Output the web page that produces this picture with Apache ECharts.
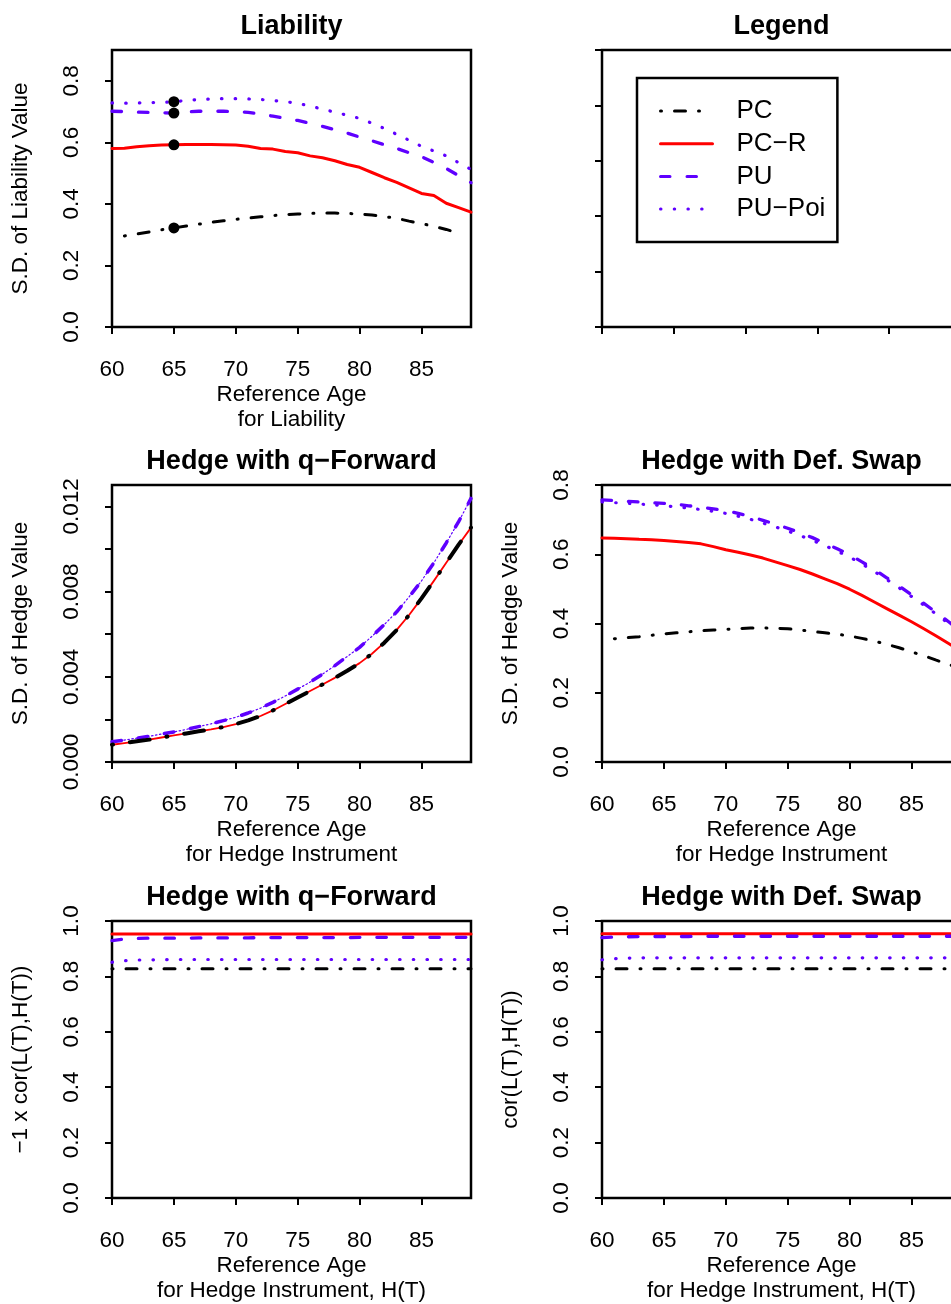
<!DOCTYPE html>
<html>
<head>
<meta charset="utf-8">
<script src="https://cdn.jsdelivr.net/npm/echarts@6/dist/echarts.min.js"></script>
<style>
  html, body { margin: 0; padding: 0; background: #ffffff; }
  #chart { width: 951px; height: 1304px; }
</style>
</head>
<body>
<div id="chart"></div>
<script>
// reference ages (x axis of every panel)
const ages = [60, 61, 62, 63, 64, 65, 66, 67, 68, 69, 70, 71, 72, 73, 74, 75, 76, 77, 78, 79, 80, 81, 82, 83, 84, 85, 86, 87, 88, 89];
const seriesNames = ['PC', 'PC−R', 'PU', 'PU−Poi'];

// Liability: S.D. of liability value
const liabPC    = [null, 0.296, 0.302, 0.309, 0.316, 0.322, 0.328, 0.334, 0.340, 0.345, 0.350, 0.354, 0.358, 0.362, 0.365, 0.367, 0.369, 0.370, 0.370, 0.369, 0.367, 0.364, 0.359, 0.353, 0.344, 0.336, 0.327, 0.317, 0.305, null];
const liabPCR   = [0.580, 0.581, 0.586, 0.589, 0.591, 0.592, 0.593, 0.593, 0.593, 0.592, 0.591, 0.587, 0.580, 0.578, 0.570, 0.566, 0.556, 0.550, 0.540, 0.528, 0.519, 0.502, 0.485, 0.470, 0.452, 0.434, 0.427, 0.402, 0.388, 0.373];
const liabPU    = [0.701, 0.700, 0.698, 0.697, 0.696, 0.695, 0.699, 0.701, 0.701, 0.701, 0.700, 0.697, 0.692, 0.685, 0.678, 0.671, 0.662, 0.652, 0.641, 0.630, 0.617, 0.605, 0.592, 0.580, 0.566, 0.553, 0.535, 0.515, 0.492, 0.469];
const liabPUPoi = [0.728, 0.727, 0.728, 0.729, 0.730, 0.732, 0.736, 0.739, 0.741, 0.742, 0.742, 0.741, 0.739, 0.736, 0.732, 0.727, 0.718, 0.708, 0.698, 0.688, 0.678, 0.662, 0.645, 0.626, 0.607, 0.587, 0.572, 0.556, 0.534, 0.512];
const dotAge = 65;

// Hedge with q-forward: S.D. of hedge value
const qfwdPC    = [0.00081, 0.00089, 0.00097, 0.00105, 0.00115, 0.00125, 0.00134, 0.00144, 0.00153, 0.00164, 0.00178, 0.00195, 0.00216, 0.00242, 0.00272, 0.00303, 0.00333, 0.00364, 0.00395, 0.00428, 0.00464, 0.00508, 0.00560, 0.00620, 0.00690, 0.00768, 0.00850, 0.00935, 0.01020, 0.01100];
const qfwdPCR   = [0.00081, 0.00089, 0.00097, 0.00105, 0.00115, 0.00125, 0.00134, 0.00144, 0.00153, 0.00164, 0.00178, 0.00195, 0.00216, 0.00242, 0.00272, 0.00303, 0.00333, 0.00364, 0.00395, 0.00428, 0.00464, 0.00508, 0.00560, 0.00620, 0.00690, 0.00768, 0.00850, 0.00935, 0.01020, 0.01100];
const qfwdPU    = [0.00095, 0.00103, 0.00112, 0.00121, 0.00131, 0.00141, 0.00153, 0.00166, 0.00179, 0.00194, 0.00210, 0.00230, 0.00253, 0.00280, 0.00310, 0.00342, 0.00375, 0.00412, 0.00452, 0.00495, 0.00538, 0.00590, 0.00645, 0.00705, 0.00775, 0.00850, 0.00935, 0.01028, 0.01128, 0.01237];
const qfwdPUPoi = [0.00095, 0.00103, 0.00112, 0.00121, 0.00131, 0.00141, 0.00153, 0.00166, 0.00179, 0.00194, 0.00210, 0.00230, 0.00253, 0.00280, 0.00310, 0.00342, 0.00375, 0.00412, 0.00452, 0.00495, 0.00538, 0.00590, 0.00645, 0.00705, 0.00775, 0.00850, 0.00935, 0.01028, 0.01128, 0.01237];

// Hedge with def. swap: S.D. of hedge value
const swapPC    = [null, 0.356, 0.359, 0.362, 0.366, 0.370, 0.373, 0.376, 0.379, 0.381, 0.383, 0.385, 0.387, 0.387, 0.386, 0.385, 0.381, 0.377, 0.373, 0.369, 0.364, 0.357, 0.349, 0.340, 0.330, 0.318, 0.307, 0.294, 0.282, 0.270];
const swapPCR   = [0.647, 0.646, 0.645, 0.643, 0.642, 0.640, 0.637, 0.634, 0.630, 0.622, 0.613, 0.606, 0.598, 0.589, 0.578, 0.567, 0.556, 0.543, 0.529, 0.515, 0.499, 0.481, 0.462, 0.443, 0.424, 0.405, 0.385, 0.364, 0.342, 0.320];
const swapPU    = [0.757, 0.755, 0.753, 0.751, 0.749, 0.747, 0.744, 0.740, 0.736, 0.731, 0.726, 0.718, 0.709, 0.698, 0.687, 0.675, 0.662, 0.648, 0.632, 0.616, 0.599, 0.578, 0.556, 0.532, 0.508, 0.483, 0.458, 0.432, 0.405, 0.378];
const swapPUPoi = [0.751, 0.749, 0.747, 0.745, 0.743, 0.740, 0.737, 0.733, 0.729, 0.724, 0.718, 0.710, 0.701, 0.690, 0.679, 0.667, 0.654, 0.640, 0.625, 0.609, 0.592, 0.572, 0.550, 0.527, 0.503, 0.478, 0.453, 0.427, 0.400, 0.373];

// Hedge with q-forward: -1 x cor(L(T),H(T))
const qcorPC    = [0.828, 0.828, 0.828, 0.828, 0.828, 0.828, 0.828, 0.828, 0.828, 0.828, 0.828, 0.828, 0.828, 0.828, 0.828, 0.828, 0.828, 0.828, 0.828, 0.828, 0.828, 0.828, 0.828, 0.828, 0.828, 0.828, 0.828, 0.828, 0.828, 0.828];
const qcorPCR   = [0.953, 0.953, 0.953, 0.953, 0.953, 0.953, 0.953, 0.953, 0.953, 0.953, 0.953, 0.953, 0.953, 0.953, 0.953, 0.953, 0.953, 0.953, 0.953, 0.953, 0.953, 0.953, 0.953, 0.953, 0.953, 0.953, 0.953, 0.953, 0.953, 0.953];
const qcorPU    = [0.929, 0.935, 0.937, 0.938, 0.938, 0.938, 0.938, 0.939, 0.939, 0.939, 0.939, 0.939, 0.940, 0.940, 0.940, 0.940, 0.940, 0.940, 0.940, 0.940, 0.941, 0.941, 0.941, 0.941, 0.941, 0.941, 0.941, 0.941, 0.941, 0.941];
const qcorPUPoi = [0.851, 0.857, 0.859, 0.860, 0.860, 0.861, 0.861, 0.861, 0.861, 0.861, 0.861, 0.861, 0.861, 0.861, 0.861, 0.861, 0.861, 0.861, 0.861, 0.861, 0.861, 0.861, 0.861, 0.861, 0.861, 0.861, 0.861, 0.861, 0.861, 0.861];

// Hedge with def. swap: cor(L(T),H(T))
const scorPC    = [0.828, 0.828, 0.828, 0.828, 0.828, 0.828, 0.828, 0.828, 0.828, 0.828, 0.828, 0.828, 0.828, 0.828, 0.828, 0.828, 0.828, 0.828, 0.828, 0.828, 0.828, 0.828, 0.828, 0.828, 0.828, 0.828, 0.828, 0.828, 0.828, 0.828];
const scorPCR   = [0.954, 0.954, 0.954, 0.954, 0.954, 0.954, 0.954, 0.954, 0.954, 0.954, 0.954, 0.954, 0.954, 0.954, 0.954, 0.954, 0.954, 0.954, 0.954, 0.954, 0.954, 0.954, 0.954, 0.954, 0.954, 0.954, 0.954, 0.954, 0.954, 0.954];
const scorPU    = [0.940, 0.942, 0.943, 0.944, 0.944, 0.944, 0.944, 0.944, 0.945, 0.945, 0.945, 0.945, 0.945, 0.945, 0.945, 0.945, 0.945, 0.945, 0.945, 0.945, 0.945, 0.945, 0.945, 0.945, 0.945, 0.945, 0.945, 0.945, 0.945, 0.945];
const scorPUPoi = [0.860, 0.864, 0.866, 0.867, 0.867, 0.867, 0.867, 0.867, 0.867, 0.867, 0.867, 0.867, 0.867, 0.867, 0.867, 0.867, 0.867, 0.867, 0.867, 0.867, 0.867, 0.867, 0.867, 0.867, 0.867, 0.867, 0.867, 0.867, 0.867, 0.867];

// tick positions
const ageTicks = [60, 65, 70, 75, 80, 85];
const legendTicks = [0, 0.2, 0.4, 0.6, 0.8, 1.0];
const liabTicks = [0, 0.2, 0.4, 0.6, 0.8];
const qfwdTicks = [0, 0.002, 0.004, 0.006, 0.008, 0.010, 0.012];
const qfwdLabels = [0, 0.004, 0.008, 0.012];
const swapTicks = [0, 0.2, 0.4, 0.6, 0.8];
const corTicks = [0, 0.2, 0.4, 0.6, 0.8, 1.0];

const FONT = '"Liberation Sans", Arial, Helvetica, sans-serif';
const RED = '#ff0000', PURPLE = '#5f00ff', BLACK = '#000000';
const DOTDASH = [1, 13, 11, 13];
const DASHED = [9.5, 17];
const DOTTED = [0.5, 13.2];
const AXIS_FONT = 22.5;

const chart = echarts.init(document.getElementById('chart'), null, { renderer: 'canvas' });

// 3 x 2 panel layout (right column runs off the page like the original)
const panelPos = [[112, 50], [602, 50], [112, 485], [602, 485], [112, 921], [602, 921]];
const grids = panelPos.map(p => ({
    left: p[0], top: p[1], width: 359, height: 277,
    show: true, borderColor: BLACK, borderWidth: 2.5, backgroundColor: 'transparent',
    containLabel: false, outerBoundsMode: 'none'
}));

function xAxis(idx, name, min, max, ticks, showLabels) {
    return {
        type: 'value', gridIndex: idx, min: min, max: max,
        name: name, nameLocation: 'middle', nameGap: 54,
        nameTextStyle: { fontSize: AXIS_FONT, lineHeight: 25.5, color: BLACK, fontFamily: FONT },
        axisLine: { show: false }, splitLine: { show: false },
        axisTick: { show: true, length: 7, lineStyle: { color: BLACK, width: 2 }, customValues: ticks },
        axisLabel: { show: showLabels, customValues: ticks, margin: 31, fontSize: AXIS_FONT, color: BLACK, fontFamily: FONT }
    };
}

function yAxis(idx, name, min, max, ticks, labels, digits) {
    return {
        type: 'value', gridIndex: idx, min: min, max: max,
        name: name, nameLocation: 'middle', nameGap: 80,
        nameTextStyle: { fontSize: AXIS_FONT, color: BLACK, fontFamily: FONT },
        axisLine: { show: false }, splitLine: { show: false },
        axisTick: { show: true, length: 7, lineStyle: { color: BLACK, width: 2 }, customValues: ticks },
        axisLabel: {
            show: labels !== null, customValues: labels || ticks, rotate: 90, margin: 29,
            fontSize: AXIS_FONT, color: BLACK, fontFamily: FONT,
            formatter: v => v.toFixed(digits)
        }
    };
}

const xAxes = [
    xAxis(0, 'Reference Age\nfor Liability', 60, 89, ageTicks, true),
    xAxis(1, '', 0, 1, legendTicks, false),
    xAxis(2, 'Reference Age\nfor Hedge Instrument', 60, 89, ageTicks, true),
    xAxis(3, 'Reference Age\nfor Hedge Instrument', 60, 89, ageTicks, true),
    xAxis(4, 'Reference Age\nfor Hedge Instrument, H(T)', 60, 89, ageTicks, true),
    xAxis(5, 'Reference Age\nfor Hedge Instrument, H(T)', 60, 89, ageTicks, true)
];
const yAxes = [
    yAxis(0, 'S.D. of Liability Value', 0, 0.9, liabTicks, liabTicks, 1),
    yAxis(1, '', 0, 1, legendTicks, null, 1),
    yAxis(2, 'S.D. of Hedge Value', 0, 0.013, qfwdTicks, qfwdLabels, 3),
    yAxis(3, 'S.D. of Hedge Value', 0, 0.8, swapTicks, swapTicks, 1),
    yAxis(4, '−1 x cor(L(T),H(T))', 0, 1, corTicks, corTicks, 1),
    yAxis(5, 'cor(L(T),H(T))', 0, 1, corTicks, corTicks, 1)
];

function lineSeries(name, idx, values, color, width, dash, z) {
    return {
        type: 'line', name: name, xAxisIndex: idx, yAxisIndex: idx,
        data: ages.map((a, i) => [a, values[i]]),
        symbol: 'none', showSymbol: false, silent: true, z: z,
        itemStyle: { color: color },
        lineStyle: { color: color, width: width, type: dash, cap: 'round', join: 'round' }
    };
}

const series = [
    // Liability
    lineSeries('PC', 0, liabPC, BLACK, 3, DOTDASH, 5),
    lineSeries('PC−R', 0, liabPCR, RED, 3, 'solid', 2),
    lineSeries('PU', 0, liabPU, PURPLE, 3.3, DASHED, 3),
    lineSeries('PU−Poi', 0, liabPUPoi, PURPLE, 3.2, DOTTED, 4),
    {
        type: 'scatter', xAxisIndex: 0, yAxisIndex: 0, symbolSize: 11, silent: true, z: 6,
        itemStyle: { color: BLACK, opacity: 1 },
        data: [liabPC, liabPCR, liabPU, liabPUPoi].map(s => [dotAge, s[ages.indexOf(dotAge)]])
    },
    // Hedge with q-forward, S.D.
    lineSeries('PC−R', 2, qfwdPCR, RED, 1.8, 'solid', 2),
    lineSeries('PU', 2, qfwdPU, PURPLE, 3.5, DASHED, 3),
    lineSeries('PU−Poi', 2, qfwdPUPoi, PURPLE, 1.2, [1.5, 2.5], 4),
    lineSeries('PC', 2, qfwdPC, BLACK, 4, [1, 17, 20, 17], 5),
    // Hedge with def. swap, S.D.
    lineSeries('PC−R', 3, swapPCR, RED, 3, 'solid', 2),
    lineSeries('PU', 3, swapPU, PURPLE, 3.3, DASHED, 3),
    lineSeries('PU−Poi', 3, swapPUPoi, PURPLE, 3.2, DOTTED, 4),
    lineSeries('PC', 3, swapPC, BLACK, 3, DOTDASH, 5),
    // Hedge with q-forward, correlation
    lineSeries('PC−R', 4, qcorPCR, RED, 3, 'solid', 2),
    lineSeries('PU', 4, qcorPU, PURPLE, 3.3, DASHED, 3),
    lineSeries('PU−Poi', 4, qcorPUPoi, PURPLE, 3.2, DOTTED, 4),
    lineSeries('PC', 4, qcorPC, BLACK, 3, DOTDASH, 5),
    // Hedge with def. swap, correlation
    lineSeries('PC−R', 5, scorPCR, RED, 3, 'solid', 2),
    lineSeries('PU', 5, scorPU, PURPLE, 3.3, DASHED, 3),
    lineSeries('PU−Poi', 5, scorPUPoi, PURPLE, 3.2, DOTTED, 4),
    lineSeries('PC', 5, scorPC, BLACK, 3, DOTDASH, 5)
];

const titles = [
    ['Liability', 291.5, 27], ['Legend', 781.5, 27],
    ['Hedge with q−Forward', 291.5, 462], ['Hedge with Def. Swap', 781.5, 462],
    ['Hedge with q−Forward', 291.5, 898], ['Hedge with Def. Swap', 781.5, 898]
];

chart.setOption({
    animation: false,
    backgroundColor: '#ffffff',
    textStyle: { fontFamily: FONT },
    grid: grids,
    xAxis: xAxes,
    yAxis: yAxes,
    legend: {
        data: seriesNames, orient: 'vertical', left: 637, top: 78,
        padding: [19, 12, 19, 22], itemWidth: 52, itemHeight: 14, itemGap: 4.7,
        borderColor: BLACK, borderWidth: 2.5, selectedMode: false,
        itemStyle: { opacity: 0 },
        lineStyle: { width: 3 },
        textStyle: { fontSize: 26, lineHeight: 28, color: BLACK, fontFamily: FONT, padding: [0, 0, 0, 19] }
    },
    graphic: titles.map(t => ({
        type: 'text', x: t[1], y: t[2], silent: true,
        style: { text: t[0], fontSize: 27, fontWeight: 'bold', fill: BLACK, fontFamily: FONT, align: 'center', verticalAlign: 'middle' }
    })),
    series: series
});
</script>
</body>
</html>
